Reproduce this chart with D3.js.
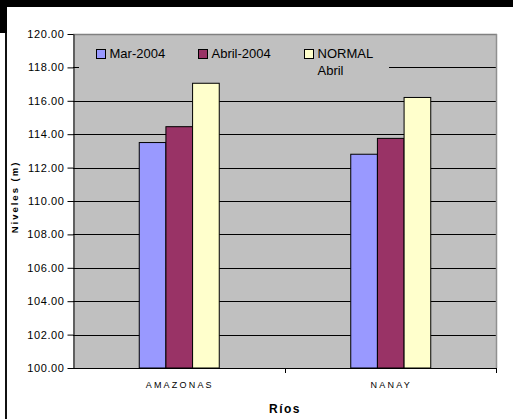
<!DOCTYPE html>
<html><head><meta charset="utf-8">
<script src="https://cdn.jsdelivr.net/npm/d3@7"></script>
<style>
html,body{margin:0;padding:0;background:#fff;}
svg{display:block;font-family:"Liberation Sans",Arial,sans-serif;}
</style></head>
<body>
<svg id="c" width="513" height="419"></svg>
<script>
const categories = ["AMAZONAS", "NANAY"];
const seriesNames = ["Mar-2004", "Abril-2004", "NORMAL Abril"];
const mar2004 = [113.5, 112.8];
const abril2004 = [114.45, 113.75];
const normalAbril = [117.05, 116.2];
const seriesColors = ["#9999ff", "#993366", "#ffffcc"];
const yTicks = [100, 102, 104, 106, 108, 110, 112, 114, 116, 118, 120];

const seriesValues = [mar2004, abril2004, normalAbril];
const svg = d3.select("#c");

// decorative frame
svg.append("rect").attr("x",0).attr("y",0).attr("width",513).attr("height",7).attr("fill","#000");
svg.append("rect").attr("x",0).attr("y",0).attr("width",7).attr("height",33).attr("fill","#000");
svg.append("rect").attr("x",5).attr("y",33).attr("width",2).attr("height",386).attr("fill","#111");

const L = 73, R = 496, T = 34, B = 368;
const y = d3.scaleLinear().domain([100,120]).range([B,T]);
const x0 = d3.scaleBand().domain(categories).range([L,R]).padding(0);
const x1 = d3.scaleBand().domain(d3.range(seriesNames.length)).range([0,x0.bandwidth()]).paddingInner(0).paddingOuter(2.466);

// plot background
svg.append("rect").attr("x",L).attr("y",T).attr("width",R-L).attr("height",B-T).attr("fill","#c0c0c0");

// gridlines
svg.append("g").selectAll("line").data(yTicks.filter(t=>t>100 && t<120)).join("line")
  .attr("x1",L).attr("x2",R).attr("y1",d=>Math.round(y(d))+0.5).attr("y2",d=>Math.round(y(d))+0.5)
  .attr("stroke","#000").attr("stroke-width",1);

// border top/right
svg.append("line").attr("x1",L).attr("x2",R+1).attr("y1",T+0.5).attr("y2",T+0.5).attr("stroke","#808080").attr("stroke-width",1.5);
svg.append("line").attr("x1",R+0.5).attr("x2",R+0.5).attr("y1",T).attr("y2",B).attr("stroke","#909090").attr("stroke-width",1.5);

// bars
const groups = svg.append("g").selectAll("g").data(categories).join("g")
  .attr("transform",c=>`translate(${x0(c)},0)`);
groups.selectAll("rect").data((c,ci)=>seriesValues.map((vals,si)=>({si,v:vals[ci]}))).join("rect")
  .attr("x",d=>x1(d.si)+0.5).attr("width",x1.bandwidth())
  .attr("y",d=>y(d.v)).attr("height",d=>y(100)-y(d.v))
  .attr("fill",d=>seriesColors[d.si]).attr("stroke","#000").attr("stroke-width",1);

// y axis
const yAxis = svg.append("g").attr("transform",`translate(${L+0.5},0)`)
  .call(d3.axisLeft(y).tickValues(yTicks).tickFormat(d3.format(".2f")).tickSize(6).tickPadding(3).tickSizeOuter(0));
yAxis.select(".domain").attr("stroke","#000");
yAxis.selectAll("line").attr("stroke","#000");
yAxis.selectAll("text").attr("font-size","11px").attr("letter-spacing","0.6px").attr("fill","#000")
  .attr("font-family","'Liberation Sans',Arial,sans-serif");

// x axis
svg.append("line").attr("x1",L).attr("x2",R+1).attr("y1",B+0.5).attr("y2",B+0.5).attr("stroke","#000").attr("stroke-width",1.2);
const bounds = categories.map(c=>x0(c)+x0.bandwidth());
svg.append("g").selectAll("line").data(bounds).join("line")
  .attr("x1",d=>Math.round(d)+0.5).attr("x2",d=>Math.round(d)+0.5).attr("y1",B).attr("y2",B+5)
  .attr("stroke","#000").attr("stroke-width",1);
svg.append("g").selectAll("text").data(categories).join("text")
  .attr("x",c=>x0(c)+x0.bandwidth()/2+1).attr("y",388)
  .attr("text-anchor","middle").attr("font-size","9px").attr("letter-spacing","2.2px").attr("fill","#000")
  .text(c=>c);

// axis titles
svg.append("text").attr("x",285).attr("y",412.5).attr("text-anchor","middle")
  .attr("font-size","12px").attr("font-weight","bold").attr("letter-spacing","1.5px").text("Ríos");
svg.append("text").attr("transform","translate(18,197) rotate(-90)").attr("text-anchor","middle")
  .attr("font-size","9.5px").attr("font-weight","bold").attr("letter-spacing","2px").text("Niveles (m)");

// legend
const lg = svg.append("g");
lg.append("rect").attr("x",79).attr("y",38).attr("width",310).attr("height",44).attr("fill","#c0c0c0");
const legX = [96, 198, 304];
seriesNames.forEach((name,i)=>{
  lg.append("rect").attr("x",legX[i]+0.5).attr("y",49.5).attr("width",9).attr("height",9)
    .attr("fill",seriesColors[i]).attr("stroke","#000").attr("stroke-width",1);
  const words = name === "NORMAL Abril" ? ["NORMAL","Abril"] : [name];
  words.forEach((w,wi)=>{
    lg.append("text").attr("x",legX[i]+13.5).attr("y",57.5+wi*17)
      .attr("font-size","13px").attr("fill","#000").text(w);
  });
});
</script>
</body></html>
